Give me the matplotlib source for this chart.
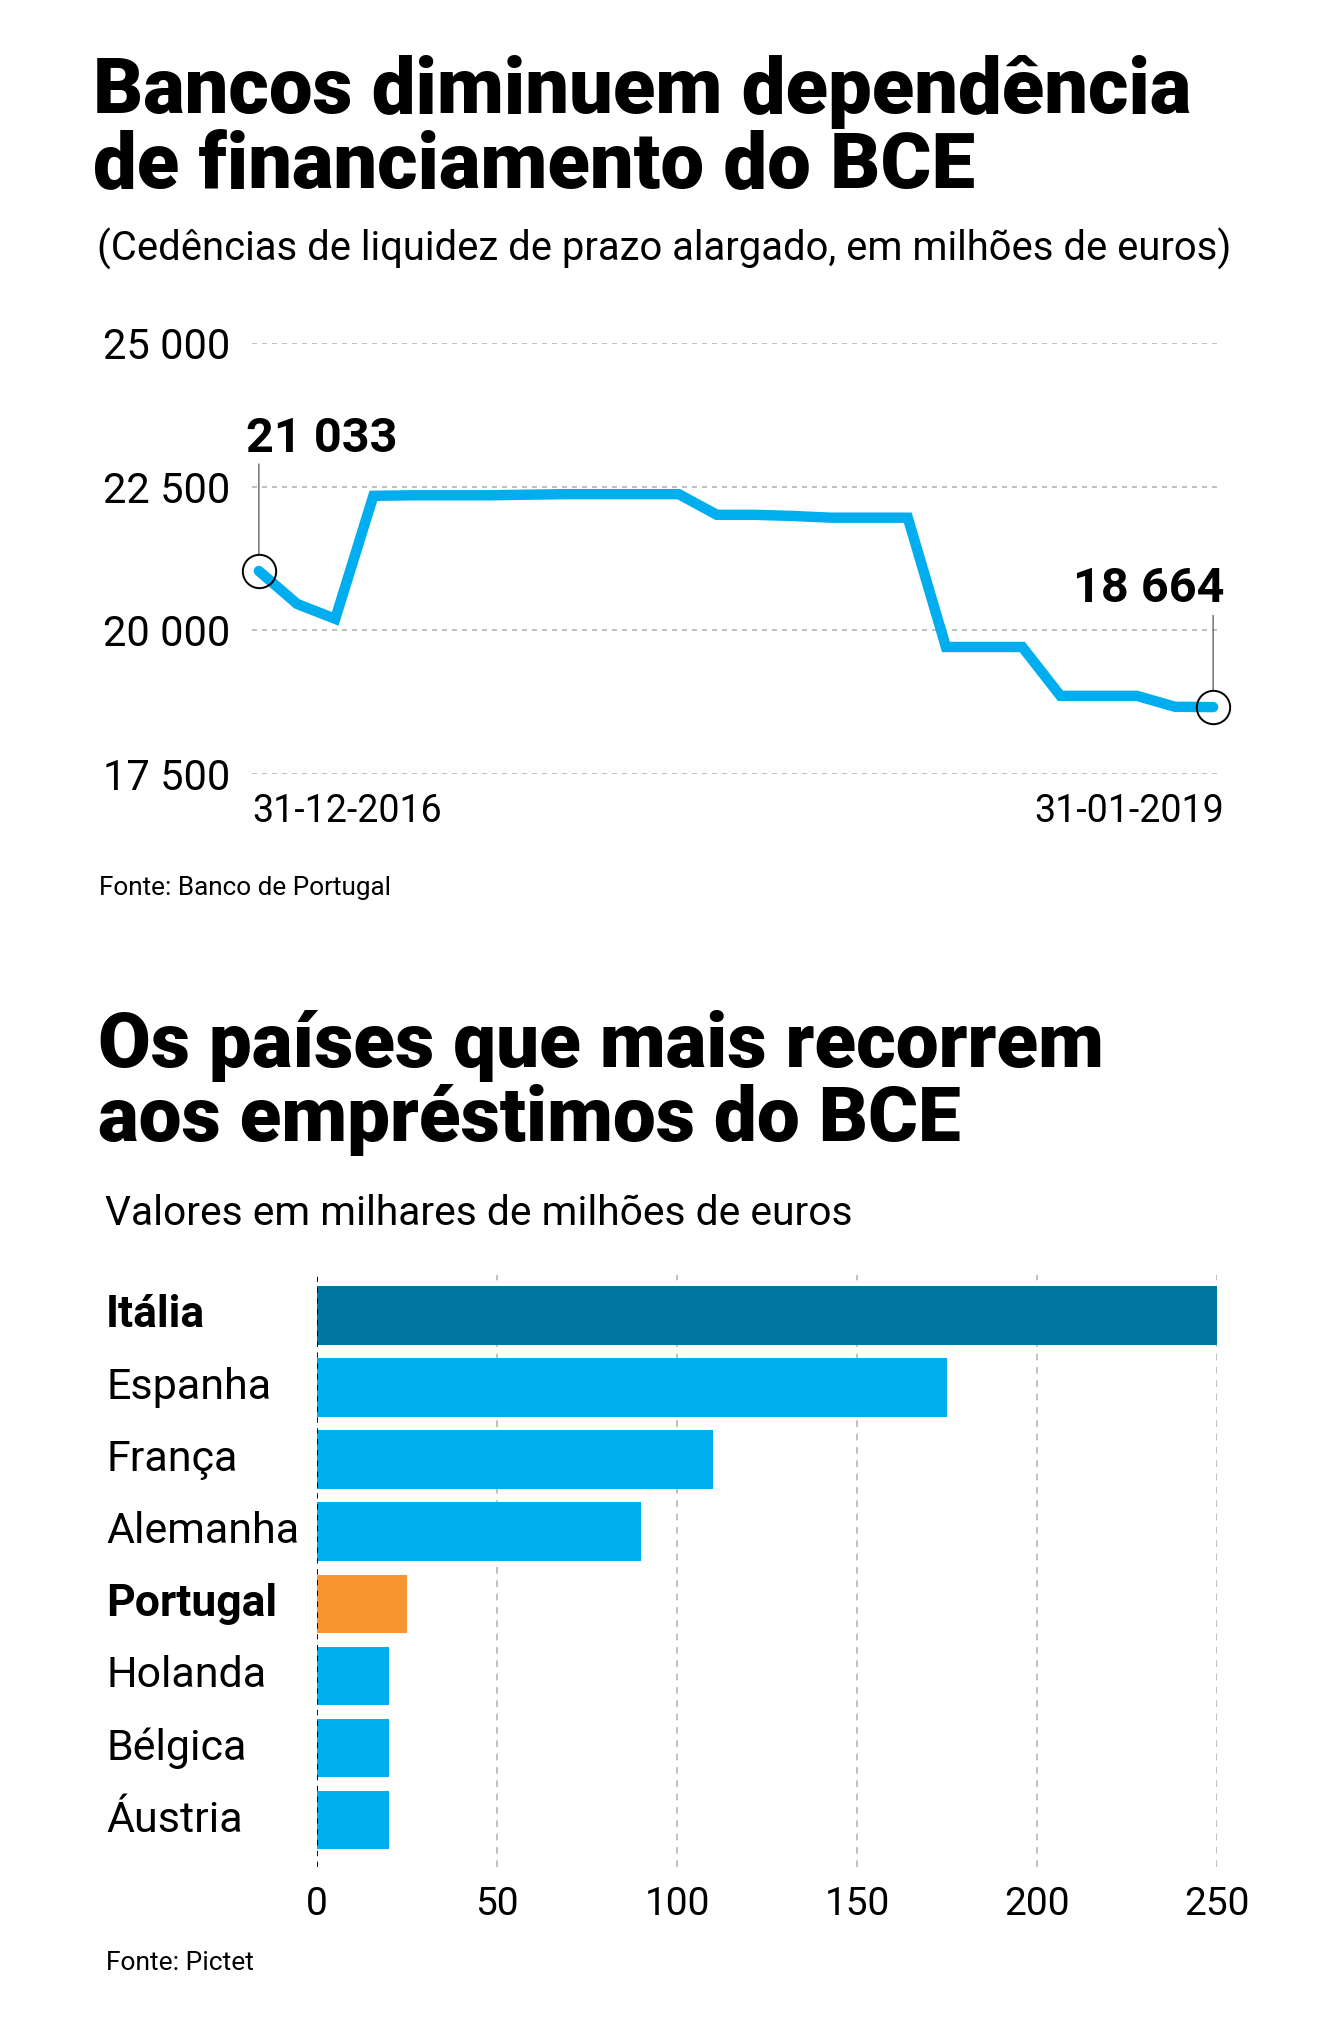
import numpy as np
import matplotlib
matplotlib.use("Agg")
import matplotlib.pyplot as plt
from matplotlib.transforms import blended_transform_factory

# ---- data ----
months = np.arange(26)  # 31-12-2016 .. 31-01-2019, monthly
liquidez = [21033, 20460, 20200, 22340, 22350, 22350, 22350, 22360, 22370,
            22370, 22370, 22370, 22010, 22010, 21990, 21960, 21960, 21960,
            19710, 19710, 19710, 18860, 18860, 18860, 18670, 18664]
y_ticks = [17500, 20000, 22500, 25000]
date_first = "31-12-2016"
date_last = "31-01-2019"

paises = ["Itália", "Espanha", "França", "Alemanha", "Portugal",
          "Holanda", "Bélgica", "Áustria"]
emprestimos = [250, 175, 110, 90, 25, 20, 20, 20]
destaque = ["Itália", "Portugal"]
x_ticks = [0, 50, 100, 150, 200, 250]

BLUE = "#00AEEF"
DARK = "#0077A3"
ORANGE = "#F7962F"
GRID = "#b5b5b5"
BODY = "Roboto"
HEAVY = "Roboto"

W, H = 1335, 2030
fig = plt.figure(figsize=(W / 100, H / 100), dpi=100)
fx = lambda px: px / W
fy = lambda py: 1 - py / H

def fmt(v):
    return f"{v:,}".replace(",", " ")

# ---- first chart: titles ----
fig.text(fx(93), fy(113), "Bancos diminuem dependência", fontsize=56,
         family=HEAVY, weight="black", va="baseline")
fig.text(fx(93), fy(187), "de financiamento do BCE", fontsize=56,
         family=HEAVY, weight="black", va="baseline")
fig.text(fx(97), fy(261), "(Cedências de liquidez de prazo alargado, em milhões de euros)",
         fontsize=28.8, family=BODY, va="baseline")

ax1 = fig.add_axes([fx(252), fy(774), fx(1220 - 252), (774 - 343) / H])
ax1.set_ylim(17500, 25000)
ax1.set_xlim(-0.18, 25.18)
ax1.set_yticks(y_ticks)
ax1.set_yticklabels([fmt(v) for v in y_ticks], family=BODY, fontsize=30)
ax1.tick_params(axis="y", length=0, pad=16)
ax1.set_xticks([])
ax1.annotate(date_first, xy=(0, 0), xycoords="axes fraction", xytext=(0, -14),
             textcoords="offset points", ha="left", va="top",
             family=BODY, fontsize=27)
ax1.annotate(date_last, xy=(1, 0), xycoords="axes fraction", xytext=(3, -14),
             textcoords="offset points", ha="right", va="top",
             family=BODY, fontsize=27)
for s in ax1.spines.values():
    s.set_visible(False)
ax1.grid(axis="y", color=GRID, linestyle=(0, (3, 3)), linewidth=1.2)
ax1.set_axisbelow(True)

ax1.plot(months, liquidez, color=BLUE, linewidth=7.5, solid_joinstyle="miter",
         solid_capstyle="round", zorder=3)

for i, top, tx, ty, ha in [(0, 77, -9, 95, "left"), (len(months) - 1, 66, 8, 85, "right")]:
    ax1.plot(months[i], liquidez[i], "o", ms=24, mfc="none", mec="black",
             mew=1.4, zorder=4, clip_on=False)
    ax1.annotate("", xy=(months[i], liquidez[i]), xytext=(0, top),
                 textcoords="offset points",
                 arrowprops=dict(arrowstyle="-", color="#666666", lw=1,
                                 shrinkA=0, shrinkB=12.3))
    ax1.annotate(fmt(liquidez[i]), xy=(months[i], liquidez[i]), xytext=(tx, ty),
                 textcoords="offset points", ha=ha, va="center",
                 family=BODY, weight="bold", fontsize=35)

fig.text(fx(99), fy(895), "Fonte: Banco de Portugal", fontsize=18.8,
         family=BODY, va="baseline")

# ---- second chart ----
fig.text(fx(98), fy(1067), "Os países que mais recorrem", fontsize=55,
         family=HEAVY, weight="black", va="baseline")
fig.text(fx(98), fy(1141), "aos empréstimos do BCE", fontsize=55,
         family=HEAVY, weight="black", va="baseline")
fig.text(fx(105), fy(1225), "Valores em milhares de milhões de euros",
         fontsize=29.3, family=BODY, va="baseline")

ax2 = fig.add_axes([fx(317), fy(1867), fx(1217.5 - 317), (1867 - 1275) / H])
ypos = np.arange(len(paises))
colors = [DARK if p == "Itália" else ORANGE if p == "Portugal" else BLUE
          for p in paises]
ax2.barh(ypos, emprestimos, height=0.81, color=colors, zorder=2)
ax2.set_xlim(0, 250)
ax2.set_ylim(len(paises) - 1 + 0.65, -0.56)
ax2.set_yticks([])
ax2.set_xticks(x_ticks)
ax2.set_xticklabels([str(v) for v in x_ticks], family=BODY, fontsize=28)
ax2.tick_params(axis="x", length=0, pad=14)
for s in ax2.spines.values():
    s.set_visible(False)
for v in x_ticks[1:]:
    ax2.axvline(v, color=GRID, linestyle=(0, (4, 4)), linewidth=1.2, zorder=1)
ax2.axvline(0, color="black", linestyle=(0, (3, 3)), linewidth=1.3, zorder=3)

tr = blended_transform_factory(fig.transFigure, ax2.transData)
for yp, p in zip(ypos, paises):
    bold = p in destaque
    ax2.text(fx(106), yp, p, transform=tr, va="center", ha="left",
             family=BODY, fontsize=32 if bold else 31,
             weight="bold" if bold else "normal")

fig.text(fx(106), fy(1970), "Fonte: Pictet", fontsize=19,
         family=BODY, va="baseline")

fig.savefig("out.png", dpi=100, facecolor="white")
